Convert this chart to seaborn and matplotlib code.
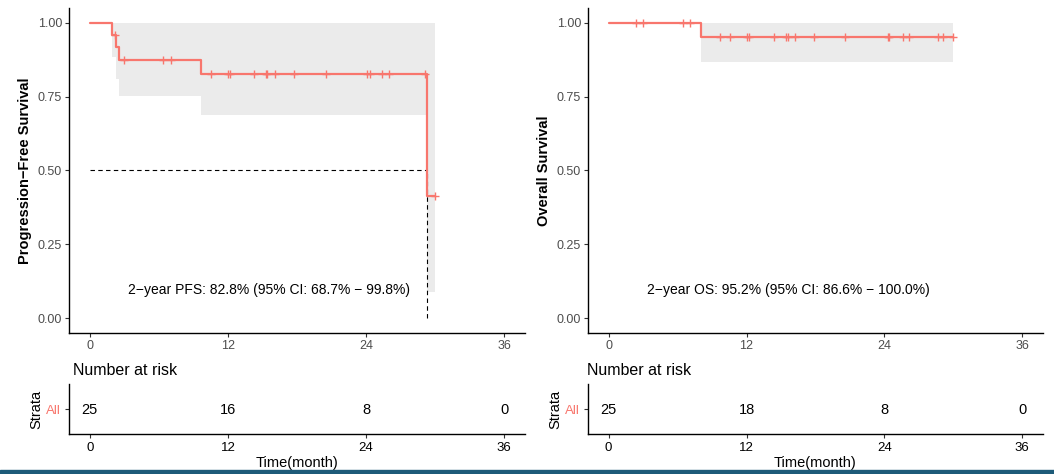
import numpy as np
import pandas as pd
import matplotlib
matplotlib.use("Agg")
import matplotlib.pyplot as plt
import seaborn as sns
from matplotlib.patches import Rectangle

# ---------------- data ----------------
pfs_time = [0, 1.95, 2.3, 2.5, 9.7, 29.3, 30.0]
pfs_surv = [1.0, 0.96, 0.917, 0.875, 0.828, 0.414, 0.414]
pfs_lower = [1.0, 0.885, 0.81, 0.753, 0.687, 0.09, 0.09]
pfs_upper = [1.0, 1.0, 1.0, 1.0, 1.0, 1.0, 1.0]
pfs_censor = [2.2, 3.0, 6.4, 7.1, 10.5, 12.0, 12.2, 14.3, 15.3, 15.4, 16.1,
              17.7, 20.5, 24.1, 24.3, 25.4, 26.0, 29.1, 30.0]
pfs_median = 29.3
pfs_text = "2\u2212year PFS: 82.8% (95% CI: 68.7% \u2212 99.8%)"

os_time = [0, 8.0, 30.0]
os_surv = [1.0, 0.952, 0.952]
os_lower = [1.0, 0.866, 0.866]
os_upper = [1.0, 1.0, 1.0]
os_censor = [2.4, 3.0, 6.45, 7.1, 9.7, 10.6, 12.05, 12.2, 14.35, 15.45, 15.6,
             16.2, 17.9, 20.6, 24.3, 24.4, 25.6, 26.1, 28.7, 29.1, 30.0]
os_text = "2\u2212year OS: 95.2% (95% CI: 86.6% \u2212 100.0%)"

risk_times = [0, 12, 24, 36]
pfs_risk = [25, 16, 8, 0]
os_risk = [25, 18, 8, 0]
time_ticks = [0, 12, 24, 36]
surv_ticks = [0.0, 0.25, 0.5, 0.75, 1.0]
surv_tick_labels = ["0.00", "0.25", "0.50", "0.75", "1.00"]

RED = "#F8766D"
CI_COL = "#EBEBEB"
TICK_GRAY = "#4D4D4D"

# ---------------- figure ----------------
sns.set_theme(style="white")
plt.rcParams["font.family"] = ["Liberation Sans", "DejaVu Sans"]
plt.rcParams["axes.unicode_minus"] = True

W, H = 1054, 474
fig = plt.figure(figsize=(W / 100, H / 100), dpi=100)
fig.patch.set_facecolor("white")


def ax_px(l, t, r, b):
    return fig.add_axes([l / W, 1 - b / H, (r - l) / W, (b - t) / H])


def style_axes(ax, labelcolor, labelsize, pad):
    for s in ["top", "right"]:
        ax.spines[s].set_visible(False)
    for s in ["left", "bottom"]:
        ax.spines[s].set_color("black")
        ax.spines[s].set_linewidth(1.0)
    ax.tick_params(axis="both", length=3, width=0.8, color="#333333",
                   labelcolor=labelcolor, labelsize=labelsize, pad=pad,
                   left=True, bottom=True)
    ax.set_xlim(-1.8, 37.8)
    ax.set_xticks(time_ticks)
    ax.set_xticklabels([str(t) for t in time_ticks])
    ax.grid(False)


def surv_plot(ax, times, surv, lower, upper, censor, ylabel, text, median=None):
    ax.fill_between(times, lower, upper, step="post", color=CI_COL, lw=0, zorder=1)
    df = pd.DataFrame({"time": times, "surv": surv})
    sns.lineplot(data=df, x="time", y="surv", drawstyle="steps-post", color=RED,
                 lw=1.6, ax=ax, estimator=None, sort=False, zorder=3)
    idx = np.searchsorted(np.array(times), np.array(censor), side="right") - 1
    cdf = pd.DataFrame({"time": censor, "surv": np.array(surv)[idx]})
    sns.scatterplot(data=cdf, x="time", y="surv", marker="+", s=40, color=RED,
                    linewidth=1.0, ax=ax, zorder=4)
    if median is not None:
        ax.plot([0, median], [0.5, 0.5], ls=(0, (4, 3)), color="black", lw=0.8, zorder=2)
        ax.plot([median, median], [0, 0.5], ls=(0, (4, 3)), color="black", lw=0.8, zorder=2)
    style_axes(ax, TICK_GRAY, 9, 2)
    ax.set_ylim(-0.05, 1.05)
    ax.set_yticks(surv_ticks)
    ax.set_yticklabels(surv_tick_labels)
    ax.set_xlabel("")
    ax.set_ylabel(ylabel, fontsize=10.5, fontweight="bold", color="black")
    ax.yaxis.set_label_coords(-0.081, 0.5)
    ax.text(15.6, 0.095, text, ha="center", va="center", fontsize=10, color="black")


def risk_table(ax, counts):
    style_axes(ax, "black", 9.5, 3)
    ax.set_ylim(-0.5, 0.5)
    ax.set_yticks([0])
    ax.set_yticklabels(["All"])
    ax.get_yticklabels()[0].set_color(RED)
    for t, c in zip(risk_times, counts):
        ax.text(t, -0.03, str(c), ha="center", va="center", fontsize=10.5, color="black")
    ax.set_ylabel("Strata", fontsize=10.5, color="black")
    ax.yaxis.set_label_coords(-0.057, 0.5)
    ax.set_xlabel("Time(month)", fontsize=10.5, color="black", labelpad=1)
    ax.text(0.009, 1.18, "Number at risk", transform=ax.transAxes, ha="left",
            va="baseline", fontsize=11.5, color="black")


ax1 = ax_px(69, 8, 525, 333)
ax2 = ax_px(588, 8, 1043, 333)
rt1 = ax_px(69, 384, 525, 434)
rt2 = ax_px(588, 384, 1043, 434)

surv_plot(ax1, pfs_time, pfs_surv, pfs_lower, pfs_upper, pfs_censor,
          "Progression\u2212Free Survival", pfs_text, median=pfs_median)
surv_plot(ax2, os_time, os_surv, os_lower, os_upper, os_censor,
          "Overall Survival", os_text)
risk_table(rt1, pfs_risk)
risk_table(rt2, os_risk)
rt2.texts[-1].set_x(-0.002)

fig.patches.append(Rectangle((0, 0), 1, 4 / H, transform=fig.transFigure,
                             color="#1d5b79", zorder=10))

fig.savefig("out.png", dpi=100, facecolor="white")
